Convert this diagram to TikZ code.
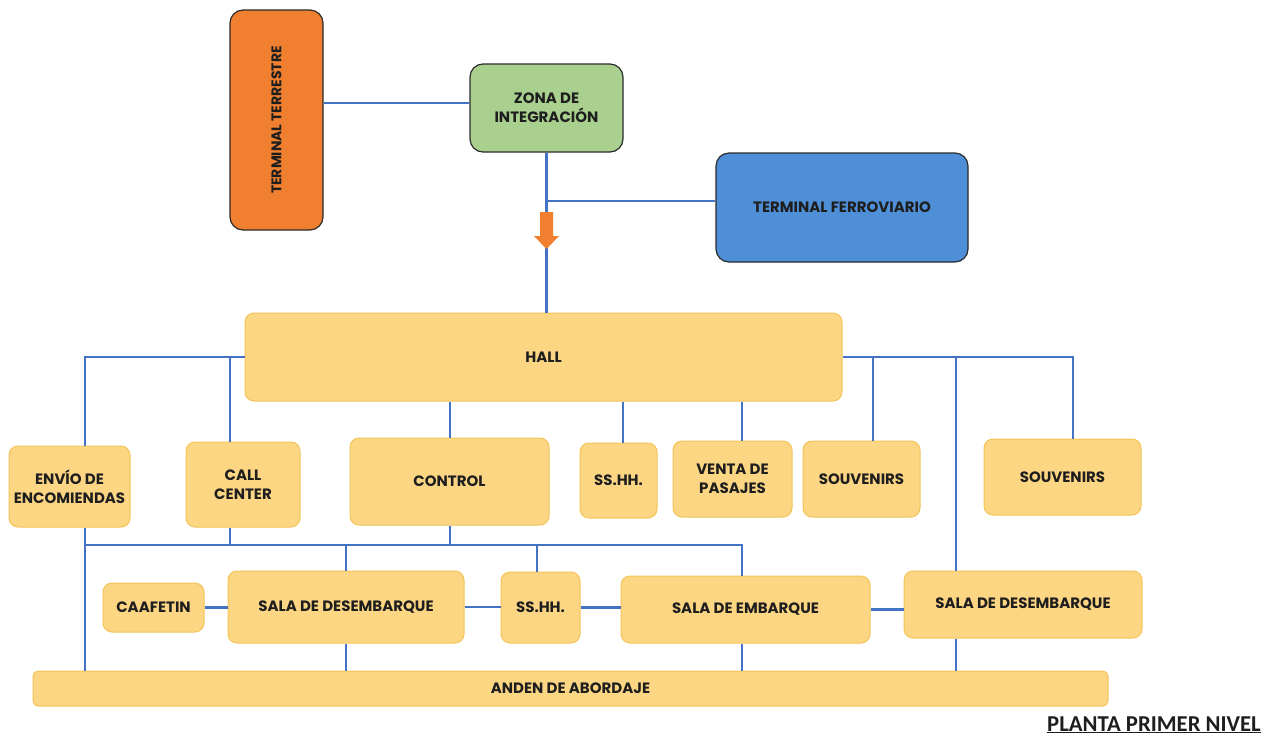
\documentclass[tikz,border=0pt]{standalone}
\usepackage{fontspec}
\setmainfont{Poppins}
\newfontfamily\capfont{Carlito}
\definecolor{boxfill}{HTML}{FDD684}
\definecolor{boxdraw}{HTML}{F3C457}
\definecolor{linkblue}{HTML}{4472C4}
\definecolor{orfill}{HTML}{F07F2F}
\definecolor{grfill}{HTML}{A9D08E}
\definecolor{blfill}{HTML}{4E8FD8}
\definecolor{darkedge}{HTML}{2B2B2B}
\definecolor{txt}{HTML}{1E1E1E}
\begin{document}
\begin{tikzpicture}[x=1pt,y=-1pt,
  lbl/.style={font=\bfseries\fontsize{15}{19}\selectfont,text=txt},
  area/.style={lbl,draw=boxdraw,fill=boxfill,line width=1pt,rounded corners=9pt,
    inner sep=0pt,align=center},
  mainbox/.style={lbl,draw=darkedge,line width=1.2pt,rounded corners=13pt,
    inner sep=0pt,align=center},
  link/.style={draw=linkblue,line width=2.8pt}]
\useasboundingbox (0,0) rectangle (1279,740);
\fill[white] (0,0) rectangle (1279,740);
% positions of connectors
\coordinate (xa) at (85,0);
\coordinate (xb) at (230,0);
\coordinate (xc) at (450,0);
\coordinate (xd) at (623,0);
\coordinate (xe) at (742,0);
\coordinate (xf) at (873,0);
\coordinate (xg) at (956,0);
\coordinate (xh) at (1073,0);
\coordinate (xi) at (537,0);
\coordinate (yb) at (0,545);
\coordinate (yt) at (0,103);
\coordinate (yf) at (0,201);
% top boxes
\node[mainbox,fill=orfill,minimum width=93pt,minimum height=220pt] (tt) at (276.5,120) {};
\node[lbl,rotate=90,font=\bfseries\fontsize{14}{17}\selectfont] (ttlabel) at (276.5,120) {TERMINAL TERRESTRE};
\node[mainbox,fill=grfill,minimum width=153pt,minimum height=88pt] (zona) at (546.5,108) {ZONA DE\\INTEGRACIÓN};
\node[mainbox,fill=blfill,minimum width=252pt,minimum height=109pt] (ferro) at (842,207.5) {TERMINAL FERROVIARIO};
% hall
\node[area,minimum width=597pt,minimum height=88pt] (hall) at (543.5,357) {HALL};
% row 2
\node[area,minimum width=121pt,minimum height=81pt] (envio) at (69.5,486.5) {ENVÍO DE\\ENCOMIENDAS};
\node[area,minimum width=114pt,minimum height=85pt] (call) at (243,484.5) {CALL\\CENTER};
\node[area,minimum width=199pt,minimum height=87pt] (control) at (449.5,481.5) {CONTROL};
\node[area,minimum width=77pt,minimum height=75pt] (ss1) at (618.5,480.5) {SS.HH.};
\node[area,minimum width=119pt,minimum height=76pt] (venta) at (732.5,479) {VENTA DE\\PASAJES};
\node[area,minimum width=117pt,minimum height=76pt] (souv1) at (861.5,479) {SOUVENIRS};
\node[area,minimum width=157pt,minimum height=76pt] (souv2) at (1062.5,477) {SOUVENIRS};
% row 3
\node[area,minimum width=101pt,minimum height=49pt] (caaf) at (153.5,607.5) {CAAFETIN};
\node[area,minimum width=236pt,minimum height=72pt] (sala1) at (346,607) {SALA DE DESEMBARQUE};
\node[area,minimum width=79pt,minimum height=71pt] (ss2) at (540.5,607.5) {SS.HH.};
\node[area,minimum width=249pt,minimum height=67pt] (emb) at (745.5,609.5) {SALA DE EMBARQUE};
\node[area,minimum width=238pt,minimum height=67pt] (sala2) at (1023,604.5) {SALA DE DESEMBARQUE};
% anden
\node[area,rounded corners=5pt,minimum width=1075pt,minimum height=35pt] (anden) at (570.5,688.5) {ANDEN DE ABORDAJE};
% title
\node[anchor=base east,font=\capfont\bfseries\fontsize{22.7}{26}\selectfont,text=txt,inner sep=0pt] (title) at (1261,731) {\underline{PLANTA PRIMER NIVEL}};
% connectors
\path[link] (tt.east |- yt) -- (zona.west |- yt);
\path[link] (zona.south) -- (zona.south |- hall.north);
\path[link] (ferro.west |- yf) -- (zona.south |- yf);
% arrow
\fill[orfill] (540,212) -- (553,212) -- (553,236) -- (559,236) -- (546.5,249) -- (534,236) -- (540,236) -- cycle;
% hall left
\path[link] (hall.west) -| (xa |- envio.north);
\path[link] (xb |- hall.west) -- (xb |- call.north);
% hall bottom
\path[link] (xc |- hall.south) -- (xc |- control.north);
\path[link] (xd |- hall.south) -- (xd |- ss1.north);
\path[link] (xe |- hall.south) -- (xe |- venta.north);
% hall right
\path[link] (hall.east) -| (xh |- souv2.north);
\path[link] (xf |- hall.east) -- (xf |- souv1.north);
\path[link] (xg |- hall.east) -- (xg |- sala2.north);
\path[link] (xg |- sala2.south) -- (xg |- anden.north);
% bus
\path[link] (xa |- envio.south) -- (xa |- anden.north);
\path[link] (xa |- yb) -| (xe |- emb.north);
\path[link] (xb |- call.south) -- (xb |- yb);
\path[link] (xc |- control.south) -- (xc |- yb);
\path[link] (sala1.north |- yb) -- (sala1.north);
\path[link] (xi |- yb) -- (xi |- ss2.north);
\path[link] (sala1.south) -- (sala1.south |- anden.north);
\path[link] (xe |- emb.south) -- (xe |- anden.north);
% row 3 horizontal
\path[link] (caaf.east) -- (caaf.east -| sala1.west);
\path[link] (sala1.east) -- (sala1.east -| ss2.west);
\path[link] (ss2.east) -- (ss2.east -| emb.west);
\path[link] (emb.east) -- (emb.east -| sala2.west);
\end{tikzpicture}
\end{document}
